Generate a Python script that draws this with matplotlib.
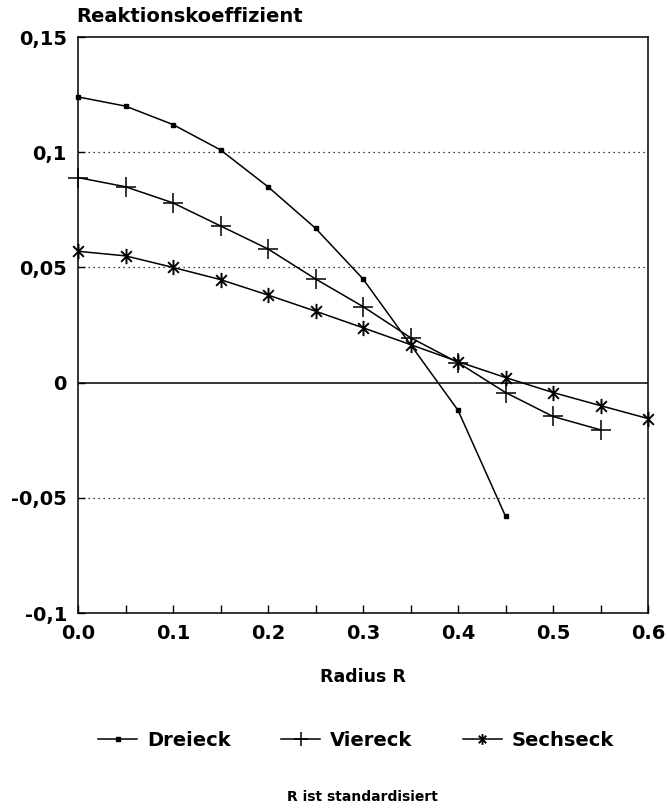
import matplotlib
matplotlib.use("Agg")
import matplotlib.pyplot as plt
from matplotlib.path import Path
import numpy as np

# Data
x_dreieck = [0.0, 0.05, 0.1, 0.15, 0.2, 0.25, 0.3, 0.4, 0.45]
y_dreieck = [0.124, 0.120, 0.112, 0.101, 0.085, 0.067, 0.045, -0.012, -0.058]
x_viereck = [0.0, 0.05, 0.1, 0.15, 0.2, 0.25, 0.3, 0.35, 0.4, 0.45, 0.5, 0.55]
y_viereck = [0.089, 0.085, 0.078, 0.068, 0.058, 0.045, 0.033, 0.0195, 0.0087, -0.0043, -0.0147, -0.0205]
x_sechseck = [0.0, 0.05, 0.1, 0.15, 0.2, 0.25, 0.3, 0.35, 0.4, 0.45, 0.5, 0.55, 0.6]
y_sechseck = [0.057, 0.055, 0.050, 0.0447, 0.038, 0.031, 0.0238, 0.0165, 0.0091, 0.0022, -0.0043, -0.0100, -0.0156]
series_names = ["Dreieck", "Viereck", "Sechseck"]
x_ticks = [0.0, 0.1, 0.2, 0.3, 0.4, 0.5, 0.6]
x_ticklabels = ["0.0", "0.1", "0.2", "0.3", "0.4", "0.5", "0.6"]
y_ticks = [-0.1, -0.05, 0, 0.05, 0.1, 0.15]
y_ticklabels = ["-0,1", "-0,05", "0", "0,05", "0,1", "0,15"]

plt.rcParams['font.family'] = ['DejaVu Sans']
plt.rcParams['font.weight'] = 'bold'

W, H = 667, 809
fig = plt.figure(figsize=(W / 100, H / 100), dpi=100)
ax = fig.add_axes([78 / W, 1 - 613 / H, 570 / W, 576 / H])

star = Path([(0, -1), (0, 1), (-0.7, -0.7), (0.7, 0.7), (-0.7, 0.7), (0.7, -0.7)],
            [Path.MOVETO, Path.LINETO, Path.MOVETO, Path.LINETO, Path.MOVETO, Path.LINETO])

lw = 1.1
ax.plot(x_dreieck, y_dreieck, color='black', lw=lw, marker='s', ms=3.5,
        label=series_names[0], clip_on=False, zorder=3)
ax.plot(x_viereck, y_viereck, color='black', lw=lw, marker='+', ms=14, mew=1.1,
        label=series_names[1], clip_on=False, zorder=3)
ax.plot(x_sechseck, y_sechseck, color='black', lw=lw, marker=star, ms=11, mew=1.4,
        mfc='none', label=series_names[2], clip_on=False, zorder=3)

ax.set_xlim(0, 0.6)
ax.set_ylim(-0.1, 0.15)

for yv in [0.1, 0.05, -0.05]:
    ax.axhline(yv, color='black', lw=0.9, ls=(0, (1, 3)), zorder=1)
ax.axhline(0, color='black', lw=1.1, zorder=1)

ax.set_xticks(x_ticks)
ax.set_xticklabels(x_ticklabels, fontsize=14, fontweight='bold')
ax.set_xticks(np.arange(0.05, 0.6, 0.1), minor=True)
ax.set_yticks(y_ticks)
ax.set_yticklabels(y_ticklabels, fontsize=14, fontweight='bold')
ax.tick_params(axis='x', which='both', direction='in', length=6, width=1, pad=8)
ax.tick_params(axis='y', which='both', direction='in', length=5, width=1, pad=8)
for s in ax.spines.values():
    s.set_linewidth(1.1)

ax.set_xlabel("Radius R", fontsize=12.5, fontweight='bold', labelpad=18)
fig.text(76 / W, 1 - 16 / H, "Reaktionskoeffizient", fontsize=14, fontweight='bold',
         ha='left', va='center')

leg = fig.legend(loc='center', bbox_to_anchor=(356 / W, 1 - 740 / H), ncol=3,
                 frameon=False, fontsize=14, handlelength=2.0, columnspacing=2.6,
                 handletextpad=0.5, markerscale=0.7)

fig.text(362 / W, 1 - 797 / H, "R ist standardisiert", fontsize=10, fontweight='bold',
         ha='center', va='center')

fig.savefig("out.png", dpi=100)
